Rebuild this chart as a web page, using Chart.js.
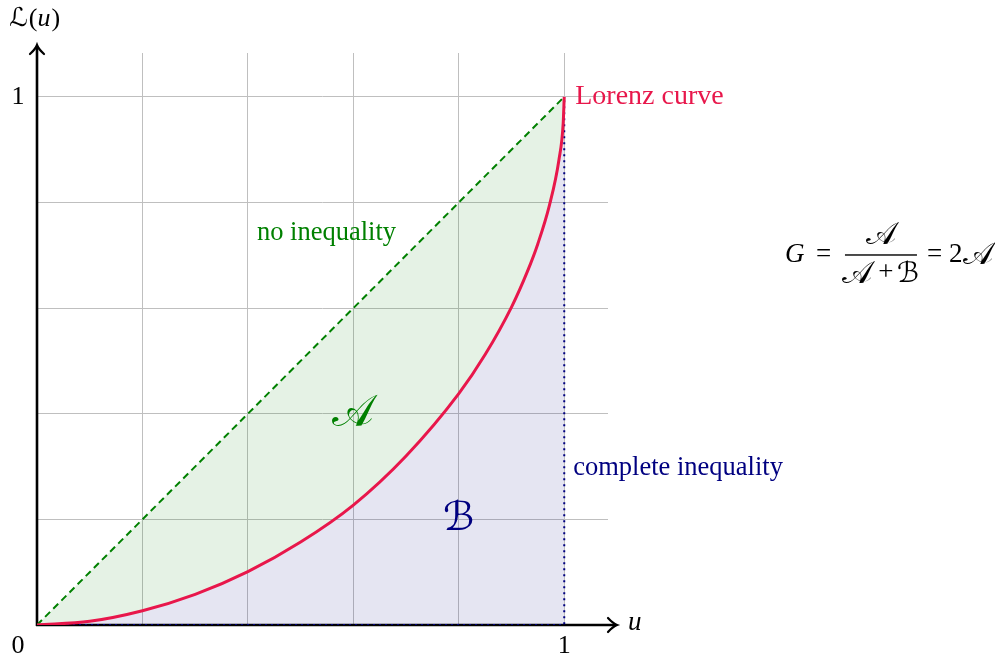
<!DOCTYPE html>
<html><head><meta charset="utf-8">
<script src="https://cdn.jsdelivr.net/npm/chart.js@4.4.0/dist/chart.umd.min.js"></script>
<style>html,body{margin:0;padding:0;background:#fff;overflow:hidden}canvas{display:block}</style>
</head><body><canvas id="c" width="995" height="659"></canvas>
<script>
// ---- data ----
const uValues      = [0, 0.1, 0.2, 0.3, 0.4, 0.5, 0.6, 0.7, 0.8, 0.85, 0.9, 0.93, 0.95, 0.972, 0.99, 0.998, 1];
const lorenzValues = [0, 0.007, 0.027, 0.058, 0.101, 0.157, 0.227, 0.32, 0.438, 0.512, 0.602, 0.669, 0.722, 0.795, 0.881, 0.95, 1];
const equalityU = [0, 1];
const equalityL = [0, 1];
const inequalityU = [0, 1, 1];
const inequalityL = [0, 0, 1];
const gridStep = 0.2;
const axisMax = 1.083;
const xTickLabels = [{v: 1, t: '1'}];
const yTickLabels = [{v: 1, t: '1'}];
const originLabel = '0';

const CRIMSON = '#e8174b', GREEN = '#008000', NAVY = '#000080';
const SERIF = '"Liberation Serif", "DejaVu Serif", serif';
const MATH = '"DejaVu Serif", "DejaVu Sans", "Noto Sans", serif';

const pts = (xs, ys) => xs.map((x, i) => ({x, y: ys[i]}));

function arrowHead(ctx, x, y, dir) {
  ctx.save();
  ctx.lineWidth = 2.2;
  ctx.lineCap = 'round';
  ctx.beginPath();
  if (dir === 'right') {
    ctx.moveTo(x - 9, y - 7); ctx.quadraticCurveTo(x - 4, y - 1.5, x, y);
    ctx.quadraticCurveTo(x - 4, y + 1.5, x - 9, y + 7);
  } else {
    ctx.moveTo(x - 7, y + 9); ctx.quadraticCurveTo(x - 1.5, y + 4, x, y);
    ctx.quadraticCurveTo(x + 1.5, y + 4, x + 7, y + 9);
  }
  ctx.stroke();
  ctx.restore();
}

const axesPlugin = {
  id: 'axesArrows',
  beforeDatasetsDraw(chart) {
    const ctx = chart.ctx, xs = chart.scales.x, ys = chart.scales.y;
    const x0 = xs.getPixelForValue(0), y0 = ys.getPixelForValue(0);
    const xEnd = xs.right + 9, yEnd = ys.top - 8;
    ctx.save();
    ctx.strokeStyle = '#000';
    ctx.lineWidth = 2.6;
    ctx.beginPath();
    ctx.moveTo(x0 - 1, y0); ctx.lineTo(xEnd - 1, y0);
    ctx.moveTo(x0, y0 + 1); ctx.lineTo(x0, yEnd + 1);
    ctx.stroke();
    arrowHead(ctx, xEnd, y0, 'right');
    arrowHead(ctx, x0, yEnd, 'up');
    ctx.restore();
  },
  afterDraw(chart) {
    const ctx = chart.ctx, xs = chart.scales.x, ys = chart.scales.y;
    const px = v => xs.getPixelForValue(v), py = v => ys.getPixelForValue(v);
    const x0 = px(0), y0 = py(0);
    ctx.save();
    ctx.textBaseline = 'middle';
    // tick labels
    ctx.fillStyle = '#000';
    ctx.font = '26px ' + SERIF;
    ctx.textAlign = 'center';
    xTickLabels.forEach(t => ctx.fillText(t.t, px(t.v), y0 + 21));
    ctx.fillText(originLabel, x0 - 19, y0 + 21);
    yTickLabels.forEach(t => ctx.fillText(t.t, x0 - 19, py(t.v)));
    // axis titles
    ctx.textAlign = 'left';
    ctx.font = 'italic 27px ' + SERIF;
    ctx.fillText('u', xs.right + 20, y0 - 2);
    let lx = x0 - 28;
    ctx.font = '26px ' + MATH;
    ctx.fillText('\u2112', lx, 19);
    lx += ctx.measureText('\u2112').width + 1;
    ctx.font = '26px ' + SERIF;
    ctx.fillText('(', lx, 19);
    lx += ctx.measureText('(').width;
    ctx.font = 'italic 26px ' + SERIF;
    ctx.fillText('u', lx, 19);
    lx += ctx.measureText('u').width + 1;
    ctx.font = '26px ' + SERIF;
    ctx.fillText(')', lx, 19);

    // annotations
    ctx.font = '28px ' + SERIF;
    ctx.fillStyle = CRIMSON;
    ctx.textAlign = 'left';
    ctx.fillText('Lorenz curve', px(1) + 11, py(1));
    ctx.font = '26.5px ' + SERIF;
    ctx.fillStyle = GREEN;
    ctx.textAlign = 'center';
    ctx.fillText('no inequality', px(0.549), py(0.742));
    ctx.fillStyle = NAVY;
    ctx.textAlign = 'left';
    ctx.fillText('complete inequality', px(1) + 9, py(0.297));

    // region letters
    ctx.textAlign = 'center';
    ctx.font = '44px ' + MATH;
    ctx.fillStyle = GREEN;
    ctx.fillText('\uD835\uDC9C', px(0.6), py(0.398));
    ctx.font = '40px ' + MATH;
    ctx.fillStyle = NAVY;
    ctx.fillText('\u212C', px(0.8), py(0.199));

    // Gini formula
    ctx.fillStyle = '#000';
    const fy = py(0.70), fx = px(1.614);
    ctx.font = 'italic 27px ' + SERIF;
    ctx.textAlign = 'left';
    ctx.fillText('G', fx - 103, fy);
    ctx.font = '27px ' + SERIF;
    ctx.fillText('=', fx - 72, fy);
    ctx.fillRect(fx - 43, fy - 1, 72, 1.4);
    ctx.textAlign = 'center';
    ctx.font = '32px ' + MATH;
    ctx.fillText('\uD835\uDC9C', fx - 7, fy - 20);
    ctx.fillText('\uD835\uDC9C', fx - 31, fy + 19);
    ctx.font = '28px ' + MATH;
    ctx.fillText('\u212C', fx + 20, fy + 19);
    ctx.font = '27px ' + SERIF;
    ctx.fillText('+', fx - 2, fy + 18);
    ctx.textAlign = 'left';
    ctx.fillText('= 2', fx + 39, fy);
    const w4 = ctx.measureText('= 2').width;
    ctx.font = '32px ' + MATH;
    ctx.fillText('\uD835\uDC9C', fx + 40 + w4, fy);
    ctx.restore();
  }
};

new Chart(document.getElementById('c'), {
  type: 'line',
  data: {
    datasets: [
      {
        label: 'Lorenz curve',
        data: pts(uValues, lorenzValues),
        borderColor: CRIMSON, borderWidth: 3,
        backgroundColor: 'rgba(0,0,128,0.1)',
        fill: 'origin', pointRadius: 0, cubicInterpolationMode: 'monotone'
      },
      {
        label: 'no inequality',
        data: pts(equalityU, equalityL),
        borderColor: GREEN, borderWidth: 2, borderDash: [7, 4.5],
        backgroundColor: 'rgba(0,128,0,0.1)',
        fill: 0, pointRadius: 0
      },
      {
        label: 'complete inequality',
        data: pts(inequalityU, inequalityL),
        borderColor: NAVY, borderWidth: 2, borderDash: [2, 4], borderCapStyle: 'butt',
        fill: false, pointRadius: 0
      }
    ]
  },
  options: {
    responsive: false, animation: false, devicePixelRatio: 1,
    layout: {padding: {left: 37, right: 387, top: 53, bottom: 34}},
    plugins: {legend: {display: false}, tooltip: {enabled: false}},
    scales: {
      x: {
        type: 'linear', min: 0, max: axisMax,
        ticks: {display: false, stepSize: gridStep, includeBounds: false},
        grid: {color: '#bfbfbf', lineWidth: 1, drawTicks: false},
        border: {display: false}
      },
      y: {
        type: 'linear', min: 0, max: axisMax,
        ticks: {display: false, stepSize: gridStep, includeBounds: false},
        grid: {color: '#bfbfbf', lineWidth: 1, drawTicks: false},
        border: {display: false}
      }
    }
  },
  plugins: [axesPlugin]
});
</script>
</body></html>
